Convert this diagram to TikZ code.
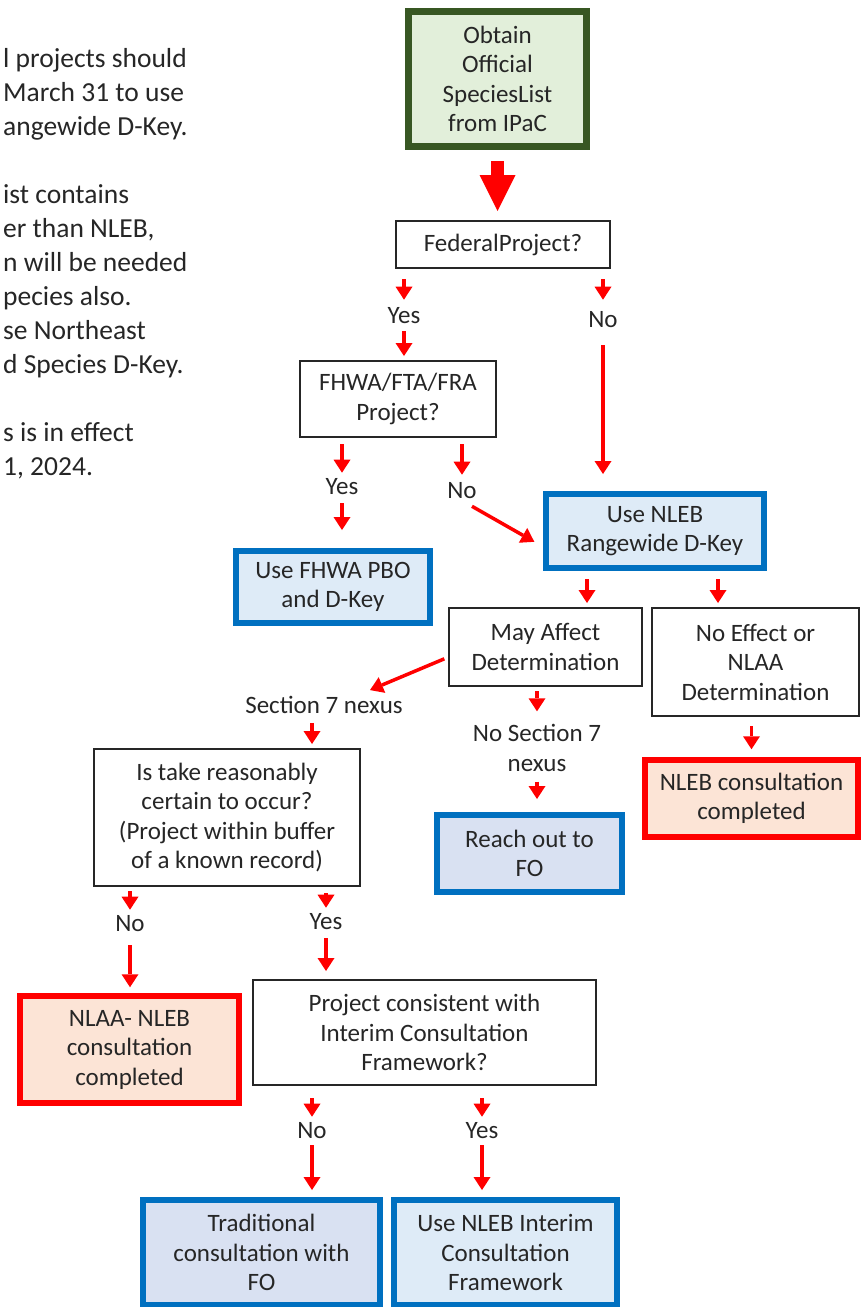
\documentclass[tikz,border=0pt]{standalone}
\usepackage{fontspec}
\setmainfont{Carlito}
\usetikzlibrary{arrows.meta, positioning}

\definecolor{arrowred}{HTML}{FF0000}
\definecolor{textgray}{HTML}{262626}
\definecolor{boxgray}{HTML}{262626}
\definecolor{boxblue}{HTML}{0070C0}
\definecolor{fillblue}{HTML}{DEEBF7}
\definecolor{fillblueb}{HTML}{D9E1F2}
\definecolor{boxgreen}{HTML}{385723}
\definecolor{fillgreen}{HTML}{E2EFDA}
\definecolor{fillred}{HTML}{FCE4D6}

\begin{document}
\begin{tikzpicture}
[x=1pt, y=-1pt,
  every node/.style={align=center, text=textgray, font=\fontsize{25}{29.5}\selectfont},
  box/.style={draw=boxgray, line width=2pt, fill=white, inner sep=0pt},
  bluebox/.style={box, draw=boxblue, line width=6pt, fill=fillblue},
  redbox/.style={box, draw=arrowred, line width=5.5pt, fill=fillred},
  startbox/.style={box, draw=boxgreen, line width=7pt, fill=fillgreen},
  lbl/.style={inner sep=6pt},
  arr/.style={->, draw=arrowred, line width=3.5pt},
  bigarr/.style={draw=arrowred, line width=13pt, -{Triangle[length=36pt,width=36pt,line width=0pt]}},
  >={Triangle[length=13pt,width=17pt,line width=0pt]}]

\useasboundingbox (0,0) rectangle (861,1307);

\node[anchor=north west, align=left, inner sep=0pt, font=\fontsize{27.5}{34}\selectfont] (note) at (3,48)
 {l projects should\\
  March 31 to use\\
  angewide D-Key.\\[34pt]
  ist contains\\
  er than NLEB,\\
  n will be needed\\
  pecies also.\\
  se Northeast\\
  d Species D-Key.\\[34pt]
  s is in effect\\
  1, 2024.};

\node[startbox, minimum width=178pt, minimum height=135pt] (obtain) at (497.5,79) {Obtain\\Official\\SpeciesList\\from IPaC};
\node[box, minimum width=214pt, minimum height=47pt] (federal) at (503,244.5) {FederalProject?};
\node[box, minimum width=196pt, minimum height=76pt] (fhwa) at (398,399) {FHWA/FTA/FRA\\Project?};
\node[bluebox, minimum width=194pt, minimum height=72pt] (pbo) at (333,587) {Use FHWA PBO\\and D-Key};
\node[bluebox, minimum width=218pt, minimum height=74pt] (rangewide) at (655,531) {Use NLEB\\Rangewide D-Key};
\node[box, minimum width=193pt, minimum height=78pt] (mayaffect) at (545.5,647) {May Affect\\Determination};
\node[box, minimum width=207pt, minimum height=108pt] (noeffect) at (755.5,662) {No Effect or\\NLAA\\Determination};
\node[redbox, minimum width=213pt, minimum height=77pt] (nlebdone) at (751.5,798.5) {NLEB consultation\\completed};
\node[bluebox, fill=fillblueb, minimum width=185pt, minimum height=77pt] (reachout) at (529.5,853.5) {Reach out to\\FO};
\node[box, minimum width=266pt, minimum height=137pt] (take) at (227,817.5) {Is take reasonably\\certain to occur?\\(Project within buffer\\of a known record)};
\node[redbox, minimum width=219pt, minimum height=107pt] (nlaadone) at (129.5,1049.5) {NLAA- NLEB\\consultation\\completed};
\node[box, minimum width=343pt, minimum height=105pt] (consistent) at (424.5,1032.5) {Project consistent with\\Interim Consultation\\Framework?};
\node[bluebox, fill=fillblueb, minimum width=237pt, minimum height=105pt] (traditional) at (261.5,1252.5) {Traditional\\consultation with\\FO};
\node[bluebox, minimum width=223pt, minimum height=105pt] (interim) at (505.5,1252.5) {Use NLEB Interim\\Consultation\\Framework};

\node[lbl] (yesfed) at (404,316) {Yes};
\node[lbl] (nofed) at (603,320) {No};
\node[lbl] (yesfhwa) at (342,487) {Yes};
\node[lbl] (nofhwa) at (462,491) {No};
\node[lbl] (nexus) at (324,705) {Section 7 nexus};
\node[lbl] (nonexus) at (537,748) {No Section 7\\nexus};
\node[lbl] (notake) at (130,924) {No};
\node[lbl] (yestake) at (326,922) {Yes};
\node[lbl] (nocons) at (312,1131) {No};
\node[lbl] (yescons) at (482,1131) {Yes};

\draw[bigarr, shorten <=11pt, shorten >=9pt] (obtain.south) -- (obtain.south |- federal.north);

\draw[arr, shorten <=10pt, shorten >=2pt] (federal.south -| yesfed) -- (yesfed.north);
\draw[arr, shorten <=1pt, shorten >=4pt] (yesfed.south) -- (yesfed.south |- fhwa.north);
\draw[arr, shorten <=10pt, shorten >=6pt] (federal.south -| nofed) -- (nofed.north);
\draw[arr, shorten <=11pt, shorten >=17pt] (nofed.south) -- (nofed.south |- rangewide.north);

\draw[arr, shorten <=6pt] (fhwa.south -| yesfhwa) -- (yesfhwa.north);
\draw[arr, shorten <=2pt, shorten >=18pt] (yesfhwa.south) -- (yesfhwa.south |- pbo.north);
\draw[arr, shorten <=6pt, shorten >=2pt] (fhwa.south -| nofhwa) -- (nofhwa.north);
\draw[arr, shorten <=2pt, shorten >=10pt] (nofhwa.-60) -- (rangewide.188);

\draw[arr, shorten <=8pt, shorten >=4pt] ([xshift=-68pt]rangewide.south) -- ([xshift=-68pt]rangewide.south |- mayaffect.north);
\draw[arr, shorten <=8pt, shorten >=4pt] ([xshift=63pt]rangewide.south) -- ([xshift=63pt]rangewide.south |- noeffect.north);

\draw[arr, shorten <=4pt] (mayaffect.186) -- ([xshift=46pt]nexus.north);
\draw[arr, shorten <=3pt, shorten >=4pt] ([xshift=-12pt]nexus.south) -- ([xshift=-12pt]nexus.south |- take.north);
\draw[arr, shorten <=4pt, shorten >=7pt] (mayaffect.south -| nonexus) -- (nonexus.north);
\draw[arr, shorten <=4pt, shorten >=13pt] (nonexus.south) -- (nonexus.south |- reachout.north);
\draw[arr, shorten <=9pt, shorten >=8pt] (noeffect.south -| nlebdone) -- (nlebdone.north);

\draw[arr, shorten <=4pt] (take.south -| notake) -- (notake.north);
\draw[arr, shorten <=7pt, shorten >=6pt] (notake.south) -- (notake.south |- nlaadone.north);
\draw[arr, shorten <=6pt] (take.south -| yestake) -- (yestake.north);
\draw[arr, shorten <=2pt, shorten >=8pt] (yestake.south) -- (yestake.south |- consistent.north);

\draw[arr, shorten <=12pt] (consistent.south -| nocons) -- (nocons.north);
\draw[arr, shorten >=7pt] (nocons.south) -- (nocons.south |- traditional.north);
\draw[arr, shorten <=12pt] (consistent.south -| yescons) -- (yescons.north);
\draw[arr, shorten >=7pt] (yescons.south) -- (yescons.south |- interim.north);

\end{tikzpicture}
\end{document}
